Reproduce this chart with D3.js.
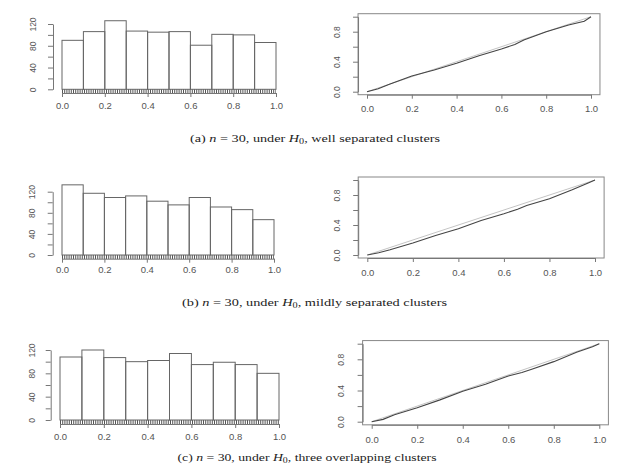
<!DOCTYPE html>
<html>
<head>
<meta charset="utf-8">
<script src="https://cdn.jsdelivr.net/npm/d3@7"></script>
<style>
  body { margin: 0; background: #fff; }
  svg { display: block; }
</style>
</head>
<body>
<div class="canvas"></div>
<script>
// ---- data ----
const binEdges = [0, 0.1, 0.2, 0.3, 0.4, 0.5, 0.6, 0.7, 0.8, 0.9, 1.0];
const countsA = [90, 106, 126, 107, 105, 106, 81, 101, 100, 86];
const countsB = [133, 117, 109, 112, 102, 95, 109, 91, 86, 67];
const countsC = [108, 120, 107, 100, 102, 114, 95, 99, 95, 80];

const histYTicks = [0, 20, 40, 60, 80, 100, 120];
const histYLabels = [0, 40, 80, 120];
const xTicks = [0, 0.2, 0.4, 0.6, 0.8, 1.0];
const qqYTicks = [0, 0.2, 0.4, 0.6, 0.8, 1.0];
const qqYLabels = [0, 0.4, 0.8];

// uniform quantiles (x) and sorted p-values (y) of the QQ plots
const qqProbs = [0, 0.05, 0.1, 0.2, 0.3, 0.4, 0.5, 0.6, 0.66, 0.7, 0.8, 0.9, 0.97, 1.0];
const qqA = [0, 0.04, 0.10, 0.21, 0.29, 0.38, 0.48, 0.57, 0.63, 0.69, 0.80, 0.89, 0.94, 1.0];
const qqB = [0, 0.03, 0.07, 0.16, 0.26, 0.35, 0.46, 0.55, 0.61, 0.66, 0.75, 0.87, 0.96, 1.0];
const qqC = [0, 0.03, 0.09, 0.18, 0.28, 0.39, 0.48, 0.585, 0.63, 0.67, 0.77, 0.89, 0.96, 1.0];

const captions = [
  ['(a) ', 'well separated clusters'],
  ['(b) ', 'mildly separated clusters'],
  ['(c) ', 'three overlapping clusters']
];

// ---- layout (pixel positions of each panel) ----
const layout = [
  { hist: { x0: 62, x1: 276, y0: 89.3, yTop: 24, axisY: 93, labY: 106, axisX: 53, labX: 33 },
    qq:   { x0: 367, x1: 591, y0: 91.7, y1: 16.7, labY: 109, labX: 336.7 },
    cap:  { cx: 315, y: 141.5, len: 250 } },
  { hist: { x0: 62, x1: 274, y0: 255, yTop: 191.7, axisY: 258.7, labY: 270, axisX: 52.7, labX: 32 },
    qq:   { x0: 367.3, x1: 595, y0: 255, y1: 180, labY: 273, labX: 336.7 },
    cap:  { cx: 314.5, y: 305.5, len: 265 } },
  { hist: { x0: 60, x1: 279, y0: 420, yTop: 350, axisY: 424, labY: 436.7, axisX: 50.7, labX: 32 },
    qq:   { x0: 371.7, x1: 599.3, y0: 421.7, y1: 343.7, labY: 439.3, labX: 340.7 },
    cap:  { cx: 307, y: 460.5, len: 259 } }
];

const counts = [countsA, countsB, countsC];
const qqVals = [qqA, qqB, qqC];

const axisColor = '#777';
const textColor = '#555';

const svg = d3.select('.canvas')
  .append('svg')
    .attr('width', 617)
    .attr('height', 464);

// style an axis group R-like: grey lines, grey text
const styleAxis = (g) => {
  g.selectAll('path, line').attr('stroke', axisColor).attr('stroke-width', 1);
  g.selectAll('text')
    .attr('fill', textColor)
    .attr('font-family', 'Liberation Sans, Arial, sans-serif');
};

// rotate left axis labels like R's default (las = 0)
const rotateLabels = (g, offset) => {
  g.selectAll('text')
    .attr('x', null)
    .attr('dy', '0.35em')
    .attr('text-anchor', 'middle')
    .attr('font-size', 8.5)
    .attr('transform', `translate(${offset},0) rotate(-90)`);
};

//=========== HISTOGRAMS =======================
const drawHist = (L, data) => {
  const x = d3.scaleLinear().domain([0, 1]).range([L.x0, L.x1]);
  const y = d3.scaleLinear().domain([0, 120]).range([L.y0, L.yTop]);
  const g = svg.append('g');

  // rug along the bottom (too dense to read single values: drawn as a dashed band)
  g.append('line')
    .attr('x1', x(0)).attr('x2', x(1))
    .attr('y1', y(0) + 2).attr('y2', y(0) + 2)
    .attr('stroke', '#555')
    .attr('stroke-width', 4)
    .attr('stroke-dasharray', '1,1.2');

  g.selectAll('rect')
    .data(data)
    .enter()
    .append('rect')
      .attr('x', (d, i) => x(binEdges[i]))
      .attr('width', (d, i) => x(binEdges[i + 1]) - x(binEdges[i]))
      .attr('y', d => y(d))
      .attr('height', d => y(0) - y(d))
      .attr('fill', 'none')
      .attr('stroke', '#666')
      .attr('stroke-width', 1);

  const xAxis = d3.axisBottom(x)
    .tickValues(xTicks)
    .tickSize(4)
    .tickSizeOuter(0)
    .tickFormat(d3.format('.1f'));
  const xg = g.append('g')
    .attr('transform', `translate(0, ${L.axisY})`)
    .call(xAxis);
  styleAxis(xg);
  xg.selectAll('text')
    .attr('font-size', 9.5)
    .attr('y', L.labY - L.axisY)
    .attr('dy', '0.35em');

  const yAxis = d3.axisLeft(y)
    .tickValues(histYTicks)
    .tickSize(5)
    .tickSizeOuter(0)
    .tickFormat(d => histYLabels.includes(d) ? d : '');
  const yg = g.append('g')
    .attr('transform', `translate(${L.axisX}, 0)`)
    .call(yAxis);
  styleAxis(yg);
  rotateLabels(yg, L.labX - L.axisX);
};

//=========== QQ PLOTS =======================
const drawQQ = (L, vals) => {
  const x = d3.scaleLinear().domain([0, 1]).range([L.x0, L.x1]);
  const y = d3.scaleLinear().domain([0, 1]).range([L.y0, L.y1]);
  const g = svg.append('g');

  // plot box, R pads 4% on each side
  g.append('rect')
    .attr('x', x(-0.04))
    .attr('y', y(1.04))
    .attr('width', x(1.04) - x(-0.04))
    .attr('height', y(-0.04) - y(1.04))
    .attr('fill', 'none')
    .attr('stroke', '#888')
    .attr('stroke-width', 1);

  // reference diagonal
  g.append('line')
    .attr('x1', x(0)).attr('y1', y(0))
    .attr('x2', x(1)).attr('y2', y(1))
    .attr('stroke', '#c4c4c4')
    .attr('stroke-width', 1);

  const line = d3.line()
    .x((d, i) => x(qqProbs[i]))
    .y(d => y(d));
  g.append('path')
    .datum(vals)
    .attr('d', line)
    .attr('fill', 'none')
    .attr('stroke', '#444')
    .attr('stroke-width', 1.1);

  const boxBottom = y(-0.04);
  const boxLeft = x(-0.04);

  const xAxis = d3.axisBottom(x)
    .tickValues(xTicks)
    .tickSize(4)
    .tickSizeOuter(0)
    .tickFormat(d3.format('.1f'));
  const xg = g.append('g')
    .attr('transform', `translate(0, ${boxBottom})`)
    .call(xAxis);
  styleAxis(xg);
  xg.selectAll('text')
    .attr('font-size', 9.5)
    .attr('y', L.labY - boxBottom)
    .attr('dy', '0.35em');

  const yAxis = d3.axisLeft(y)
    .tickValues(qqYTicks)
    .tickSize(5)
    .tickSizeOuter(0)
    .tickFormat(d => qqYLabels.includes(d) ? d3.format('.1f')(d) : '');
  const yg = g.append('g')
    .attr('transform', `translate(${boxLeft}, 0)`)
    .call(yAxis);
  styleAxis(yg);
  rotateLabels(yg, L.labX - boxLeft);
};

//=========== CAPTIONS =======================
const drawCaption = (L, cap) => {
  const t = svg.append('text')
    .attr('x', L.cx)
    .attr('y', L.y)
    .attr('text-anchor', 'middle')
    .attr('font-family', 'Liberation Serif, Times New Roman, serif')
    .attr('font-size', 10.5)
    .attr('fill', '#222')
    .attr('textLength', L.len)
    .attr('lengthAdjust', 'spacingAndGlyphs');
  t.append('tspan').text(cap[0]);
  t.append('tspan').attr('font-style', 'italic').text('n');
  t.append('tspan').text(' = 30, under ');
  t.append('tspan').attr('font-style', 'italic').text('H');
  t.append('tspan').attr('font-size', 7.5).attr('dy', 2).text('0');
  t.append('tspan').attr('dy', -2).text(', ' + cap[1]);
};

layout.forEach((L, i) => {
  drawHist(L.hist, counts[i]);
  drawQQ(L.qq, qqVals[i]);
  drawCaption(L.cap, captions[i]);
});
</script>
</body>
</html>
